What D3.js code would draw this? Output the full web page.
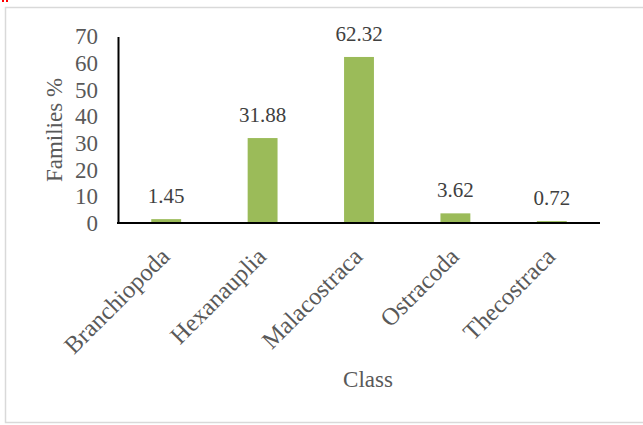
<!DOCTYPE html>
<html><head><meta charset="utf-8">
<script src="https://cdn.jsdelivr.net/npm/d3@7"></script>
<style>html,body{margin:0;padding:0;background:#fff;}svg{display:block;}</style>
</head><body>
<script>
const categories = ["Branchiopoda","Hexanauplia","Malacostraca","Ostracoda","Thecostraca"];
const values = [1.45, 31.88, 62.32, 3.62, 0.72];
const valueLabels = ["1.45","31.88","62.32","3.62","0.72"];
const yTicks = [0,10,20,30,40,50,60,70];

const W = 643, H = 425;
const svg = d3.select("body").append("svg").attr("width", W).attr("height", H);
const font = "'Liberation Serif','Times New Roman',serif";

svg.append("rect").attr("x",5.5).attr("y",7.5).attr("width",W).attr("height",415)
  .attr("fill","#fff").attr("stroke","#d9d9d9").attr("stroke-width",1.5);
svg.append("rect").attr("x",2).attr("y",0).attr("width",2).attr("height",2).attr("fill","#ff0000");
svg.append("rect").attr("x",6).attr("y",0).attr("width",2).attr("height",2).attr("fill","#ff0000");

const x = d3.scaleBand().domain(categories).range([118, 600]).paddingInner(0.69).paddingOuter(0.345);
const y = d3.scaleLinear().domain([0,70]).range([223, 36.5]);

svg.selectAll("rect.bar").data(values).enter().append("rect").attr("class","bar")
  .attr("x",(d,i)=>x(categories[i])).attr("width",x.bandwidth())
  .attr("y",d=>y(d)).attr("height",d=>y(0)-y(d)).attr("fill","#9bbb59");

svg.selectAll("text.val").data(values).enter().append("text").attr("class","val")
  .attr("x",(d,i)=>x(categories[i])+x.bandwidth()/2).attr("y",d=>y(d)-16)
  .attr("text-anchor","middle").attr("font-family",font).attr("font-size",21).attr("fill","#404040")
  .text((d,i)=>valueLabels[i]);

const yAxis = d3.axisLeft(y).tickValues(yTicks).tickSize(0).tickPadding(20);
const gy = svg.append("g").attr("transform","translate(118,0)").call(yAxis);
gy.select(".domain").attr("stroke","#000").attr("stroke-width",2);
gy.selectAll("text").attr("font-family",font).attr("font-size",23).attr("fill","#595959");

const xAxis = d3.axisBottom(x).tickSize(0).tickPadding(0);
const gx = svg.append("g").attr("transform","translate(0,223)").call(xAxis);
gx.select(".domain").attr("stroke","#000").attr("stroke-width",2).attr("d","M117,0H600");
gx.selectAll("text").attr("font-family",font).attr("font-size",24.5).attr("fill","#595959")
  .attr("text-anchor","end").attr("dy",null).attr("y",0)
  .attr("transform","translate(5,35) rotate(-45)");

svg.append("text").attr("transform","translate(62,130) rotate(-90)").attr("text-anchor","middle")
  .attr("font-family",font).attr("font-size",23).attr("fill","#595959").text("Families %");
svg.append("text").attr("x",368).attr("y",387).attr("text-anchor","middle")
  .attr("font-family",font).attr("font-size",23).attr("fill","#595959").text("Class");
</script>
</body></html>
